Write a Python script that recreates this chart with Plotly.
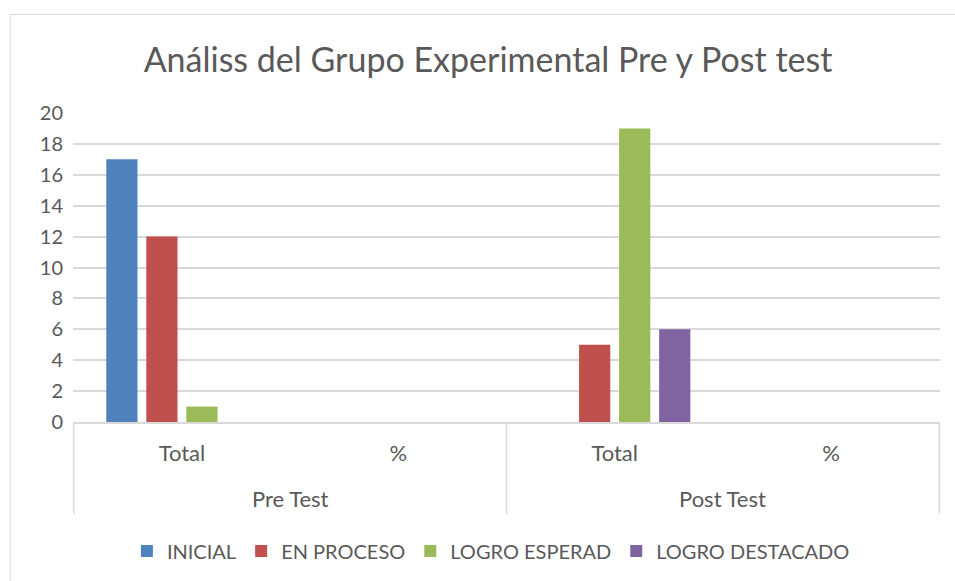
import plotly.graph_objects as go

groups = ["Pre Test", "Pre Test", "Post Test", "Post Test"]
subcats = ["Total", "%", "Total", "%"]
series_names = ["INICIAL", "EN PROCESO", "LOGRO ESPERAD", "LOGRO DESTACADO"]
inicial = [17, None, 0, None]
en_proceso = [12, None, 5, None]
logro_esperado = [1, None, 19, None]
logro_destacado = [0, None, 6, None]
colors = ["#4F81BD", "#C0504D", "#9BBB59", "#8064A2"]

values = [inicial, en_proceso, logro_esperado, logro_destacado]
cat_keys = [g + " | " + s for g, s in zip(groups, subcats)]
group_names = list(dict.fromkeys(groups))

FONT = "Lato, 'Open Sans', sans-serif"
GREY = "#595959"
LINE = "#D9D9D9"

fig = go.Figure()
for name, vals, c in zip(series_names, values, colors):
    fig.add_trace(go.Bar(x=cat_keys, y=vals, name=name,
                         marker=dict(color=c, line=dict(width=0))))

fig.update_layout(
    width=955, height=581,
    margin=dict(l=73, r=15, t=113, b=158),
    paper_bgcolor="white", plot_bgcolor="white",
    barmode="group", bargap=0.26, bargroupgap=0.22,
    title=dict(text="Análiss del Grupo Experimental Pre y Post test",
               x=0.511, xanchor="center", y=0.897, yanchor="middle",
               font=dict(family=FONT, size=34, color=GREY)),
    font=dict(family=FONT, size=19, color=GREY),
    legend=dict(orientation="h", x=0.482, xanchor="center", y=-0.413, yanchor="middle",
                font=dict(size=20, color=GREY), itemwidth=30, traceorder="normal"),
    showlegend=True,
)
fig.update_yaxes(range=[0, 20], dtick=2, showgrid=True, gridcolor=LINE, gridwidth=1.5,
                 zeroline=False, showline=False, ticks="", tickfont=dict(size=20, color=GREY),
                 ticklabelstandoff=9)
fig.update_xaxes(type="category", categoryorder="array", categoryarray=cat_keys,
                 tickmode="array", tickvals=cat_keys, ticktext=subcats,
                 showline=True, linecolor=LINE, linewidth=1.5, showgrid=False,
                 ticks="", ticklabelstandoff=11,
                 tickfont=dict(size=22, color=GREY))

# group labels and dividers of the two-level category axis
n_per_group = len(cat_keys) // len(group_names)
for gi, g in enumerate(group_names):
    center = gi * n_per_group + (n_per_group - 1) / 2
    fig.add_annotation(x=center, xref="x", y=-0.248, yref="paper", text=g,
                       showarrow=False, xanchor="center", yanchor="middle",
                       font=dict(size=22, color=GREY))
for k in range(len(group_names) + 1):
    xd = k * n_per_group - 0.5
    fig.add_shape(type="line", xref="x", yref="paper", x0=xd, x1=xd, y0=0, y1=-0.297,
                  line=dict(color=LINE, width=1.5))

# outer chart-area border
fig.add_shape(type="rect", xref="paper", yref="paper", x0=-0.0726, x1=1.2, y0=-0.7, y1=1.319,
              line=dict(color=LINE, width=1), fillcolor="rgba(0,0,0,0)", layer="below")

fig.write_html("out.html", config={"displayModeBar": False},
               post_script="document.body.style.margin='0';")
